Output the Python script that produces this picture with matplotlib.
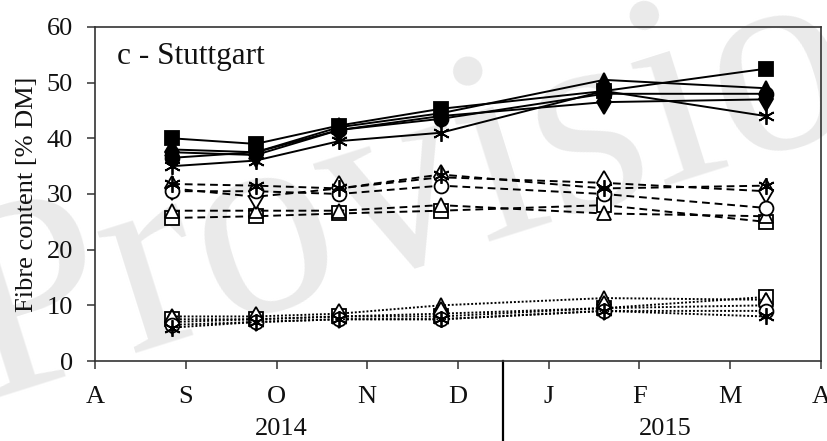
import matplotlib.pyplot as plt

plt.rcParams['font.family'] = ['Liberation Serif', 'DejaVu Serif']

# month axis: 0 = 1 Aug 2014 ... 8 = 1 Apr 2015
month_labels = ['A', 'S', 'O', 'N', 'D', 'J', 'F', 'M', 'A']
year_labels = ['2014', '2015']
year_label_x = [2.05, 6.28]
year_divider = 4.5
harvest_x = [0.85, 1.77, 2.69, 3.81, 5.61, 7.39]

# upper group (solid lines, filled markers)
ndf_square = [40.0, 39.0, 42.3, 45.3, 48.5, 52.5]
ndf_triangle = [38.0, 37.5, 42.0, 44.5, 50.5, 49.0]
ndf_diamond = [37.5, 37.0, 41.5, 44.0, 46.5, 47.0]
ndf_circle = [36.5, 37.5, 41.5, 43.5, 48.0, 48.0]
ndf_star = [35.0, 36.0, 39.5, 41.0, 48.5, 44.0]

# middle group (dashed lines, open markers)
adf_square = [25.7, 26.0, 26.5, 27.0, 28.0, 25.0]
adf_triangle = [27.0, 27.0, 27.0, 28.0, 26.5, 26.0]
adf_diamond = [31.0, 29.5, 31.0, 33.0, 32.0, 30.5]
adf_circle = [30.5, 30.5, 30.0, 31.5, 30.0, 27.5]
adf_star = [31.8, 31.5, 31.0, 33.5, 31.0, 31.5]

# lower group (dotted lines, open markers)
adl_square = [7.5, 7.5, 8.0, 8.0, 9.5, 11.5]
adl_triangle = [8.0, 8.0, 8.5, 10.0, 11.3, 11.0]
adl_diamond = [7.0, 7.5, 8.0, 8.5, 9.5, 10.0]
adl_circle = [6.5, 7.0, 7.5, 7.5, 9.0, 9.0]
adl_star = [6.0, 7.0, 7.5, 7.5, 9.0, 8.0]

markers = ['s', '^', 'd', 'o', (6, 2, 0)]
sizes = [10, 10, 12, 10, 12]

groups = [
    ([ndf_square, ndf_triangle, ndf_diamond, ndf_circle, ndf_star], '-', 'black'),
    ([adf_square, adf_triangle, adf_diamond, adf_circle, adf_star], (0, (4, 2.5)), 'white'),
    ([adl_square, adl_triangle, adl_diamond, adl_circle, adl_star], (0, (1, 1)), 'white'),
]

fig, ax = plt.subplots(figsize=(8.27, 4.41), dpi=100)
fig.subplots_adjust(left=0.1149, right=0.9927, bottom=0.1814, top=0.9388)
ax.set_facecolor('none')

# watermark behind the axes
fig.text(-0.02, 0.095, 'Provisional', fontsize=200, color='#eaeaea', rotation=17.5,
         rotation_mode='anchor', ha='left', va='baseline', zorder=-1)

for series, ls, fill in groups:
    for vals, m, s in zip(series, markers, sizes):
        ax.plot(harvest_x, vals, linestyle=ls, color='black', lw=1.4, marker=m, ms=s,
                mfc=fill, mec='black', mew=1.3)

ax.set_xlim(0, 8)
ax.set_ylim(0, 60)
ax.set_xticks(range(len(month_labels)))
ax.set_xticklabels(month_labels)
ax.set_yticks(range(0, 61, 10))

for sp in ax.spines.values():
    sp.set_color('#333333')
    sp.set_linewidth(1.2)
ax.tick_params(axis='both', direction='out', length=6, width=1.1, color='#333333',
               labelsize=19, labelcolor='#111111')
ax.tick_params(axis='x', pad=12)
ax.tick_params(axis='y', pad=10)

ax.set_ylabel('Fibre content [% DM]', fontsize=19, color='#111111', labelpad=6)
ax.text(0.030, 0.889, 'c - Stuttgart', transform=ax.transAxes, fontsize=22.5,
        va='baseline', color='#111111')

# year divider and year labels below the month axis
ax.plot([year_divider, year_divider], [0, -0.25], transform=ax.get_xaxis_transform(),
        color='black', lw=1.6, clip_on=False)
for x, lab in zip(year_label_x, year_labels):
    ax.text(x, -0.204, lab, transform=ax.get_xaxis_transform(), ha='center', va='center',
            fontsize=19, color='#111111')

plt.savefig('out.png', dpi=100)
